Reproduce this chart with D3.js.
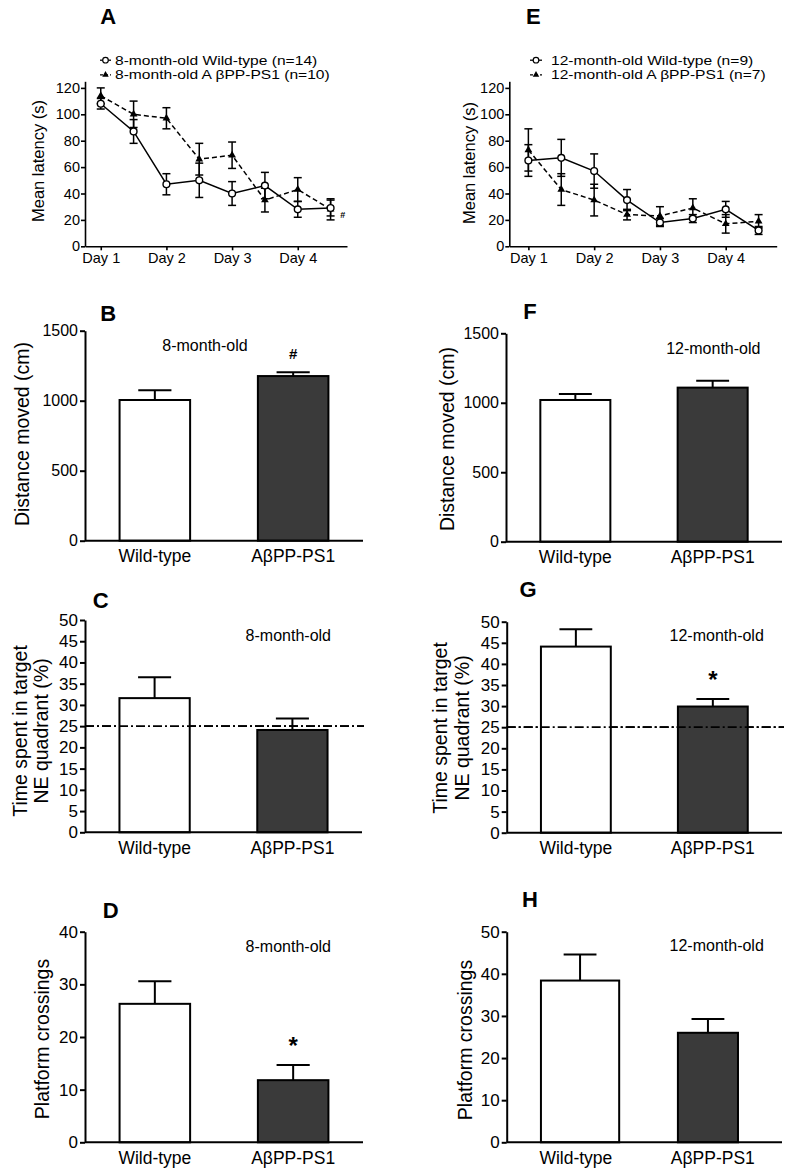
<!DOCTYPE html>
<html><head><meta charset="utf-8">
<script src="https://cdn.jsdelivr.net/npm/d3@7"></script>
<style>
body{margin:0;background:#fff}
svg{display:block}
text{font-family:"Liberation Sans",Arial,Helvetica,sans-serif;fill:#000}
</style>
</head><body>
<svg id="fig" width="791" height="1175"></svg>
<script>
// ---------- data ----------
const dayLabels = ["Day 1","Day 2","Day 3","Day 4"];
const dayTicks = [1,2,3,4];
const sessions = [1,1.5,2,2.5,3,3.5,4,4.5];

const wt8Latency    = [108,87,47,50,40,46,28,29];
const wt8LatencySem = [4,9,8,13,9,10,6,6];
const app8Latency    = [114,100,97,66,69,35,43,28];
const app8LatencySem = [6,10,8,12,10,9,9,8];

const wt12Latency    = [65,67,57,35,18,21,28,12];
const wt12LatencySem = [12,14,13,8,3,3,6,3];
const app12Latency    = [73,43,35,24,23,29,17,19];
const app12LatencySem = [16,12,12,4,7,7,7,5];

const legend8  = ["8-month-old Wild-type (n=14)","8-month-old A \u03b2PP-PS1 (n=10)"];
const legend12 = ["12-month-old Wild-type (n=9)","12-month-old A \u03b2PP-PS1 (n=7)"];

const groups = ["Wild-type","A\u03b2PP-PS1"];
const distance8 = [1005,1176],  distance8Sem = [70,27];
const distance12 = [1020,1109], distance12Sem = [43,50];
const quadrant8 = [31.6,24.1],  quadrant8Sem = [4.9,2.7];
const quadrant12 = [44.1,29.9], quadrant12Sem = [4.1,1.8];
const crossings8 = [26.3,11.8], crossings8Sem = [4.3,2.9];
const crossings12 = [38.4,26.0], crossings12Sem = [6.2,3.3];
const chanceLevel = 25;

const latencyTicks = [0,20,40,60,80,100,120];
const distanceTicks = [0,500,1000,1500];
const quadrantTicks = [0,5,10,15,20,25,30,35,40,45,50];
const crossings8Ticks = [0,10,20,30,40];
const crossings12Ticks = [0,10,20,30,40,50];

// ---------- drawing ----------
const svg = d3.select("#fig");
svg.append("rect").attr("width",791).attr("height",1175).attr("fill","#fff");

function styleAxis(sel, fs, sw){
  sel.selectAll("path.domain").attr("stroke","#000").attr("stroke-width",sw);
  sel.selectAll(".tick line").attr("stroke","#000").attr("stroke-width",sw);
  sel.selectAll(".tick text").style("font-size",fs+"px").attr("fill","#000");
  sel.attr("font-family",null);
}

function letter(t, x, yb){
  svg.append("text").attr("x",x).attr("y",yb).attr("text-anchor","middle")
    .style("font-size","22px").style("font-weight","bold").text(t);
}

function vTitle(lines, xs, yc, fs){
  lines.forEach((t,i)=>{
    svg.append("text").attr("transform",`translate(${xs[i]},${yc}) rotate(-90)`)
      .attr("text-anchor","middle").attr("dy","0.35em").style("font-size",fs+"px").text(t);
  });
}

function linePanel(o){
  const g = svg.append("g");
  const x = d3.scaleLinear().domain([o.dmin,o.dmax]).range([o.left,o.right]);
  const y = d3.scaleLinear().domain([0,125]).range([o.y0,o.y0-165]);

  const ya = g.append("g").attr("transform",`translate(${o.left},0)`)
    .call(d3.axisLeft(y).tickValues(latencyTicks).tickFormat(d3.format("d")).tickSize(4).tickPadding(1).tickSizeOuter(0));
  styleAxis(ya,14.5,1.6);
  const xa = g.append("g").attr("transform",`translate(0,${o.y0})`)
    .call(d3.axisBottom(x).tickValues(dayTicks).tickFormat((d,i)=>dayLabels[i]).tickSize(4).tickPadding(2).tickSizeOuter(0));
  styleAxis(xa,14.5,1.6);

  const series = [
    {v:o.app, s:o.appSem, dash:"5,3", type:"app"},
    {v:o.wt,  s:o.wtSem,  dash:null,  type:"wt"}
  ];
  series.forEach(sr=>{
    const pts = sessions.map((d,i)=>({d, v:sr.v[i], s:sr.s[i]}));
    g.append("path").datum(pts)
      .attr("d", d3.line().x(p=>x(p.d)).y(p=>y(p.v)))
      .attr("fill","none").attr("stroke","#000").attr("stroke-width",1.5)
      .attr("stroke-dasharray",sr.dash);
    const eb = g.append("g").selectAll("g").data(pts).join("g");
    eb.append("line").attr("x1",p=>x(p.d)).attr("x2",p=>x(p.d))
      .attr("y1",p=>y(p.v-p.s)).attr("y2",p=>y(p.v+p.s)).attr("stroke","#000").attr("stroke-width",1.5);
    [-1,1].forEach(k=>{
      eb.append("line").attr("x1",p=>x(p.d)-4).attr("x2",p=>x(p.d)+4)
        .attr("y1",p=>y(p.v+k*p.s)).attr("y2",p=>y(p.v+k*p.s)).attr("stroke","#000").attr("stroke-width",1.5);
    });
    if(sr.type==="wt"){
      g.append("g").selectAll("circle").data(pts).join("circle")
        .attr("cx",p=>x(p.d)).attr("cy",p=>y(p.v)).attr("r",3.4)
        .attr("fill","#fff").attr("stroke","#000").attr("stroke-width",1.4);
    } else {
      g.append("g").selectAll("path").data(pts).join("path")
        .attr("transform",p=>`translate(${x(p.d)},${y(p.v)})`)
        .attr("d",d3.symbol(d3.symbolTriangle,26)).attr("fill","#000");
    }
  });

  // legend
  o.legend.forEach((t,i)=>{
    const cy = o.ly[i];
    g.append("line").attr("x1",o.lx0).attr("x2",o.lx1).attr("y1",cy).attr("y2",cy)
      .attr("stroke","#000").attr("stroke-width",1.3).attr("stroke-dasharray", i? "3,2":null);
    const mx = (o.lx0+o.lx1)/2;
    if(i===0){
      g.append("circle").attr("cx",mx).attr("cy",cy).attr("r",2.8).attr("fill","#fff").attr("stroke","#000").attr("stroke-width",1.2);
    } else {
      g.append("path").attr("transform",`translate(${mx},${cy})`).attr("d",d3.symbol(d3.symbolTriangle,18)).attr("fill","#000");
    }
    g.append("text").attr("transform",`translate(${o.tx},${cy}) scale(1.2,1)`)
      .attr("dy","0.35em").style("font-size","13px").text(t);
  });
  if(o.mark){
    g.append("text").attr("x",o.mark[0]).attr("y",o.mark[1]).attr("text-anchor","middle")
      .style("font-size","9px").style("font-weight","bold").text("#");
  }
}

function barPanel(o){
  const g = svg.append("g");
  const x = d3.scaleBand().domain(groups).range([o.left,o.right]).paddingInner(0.49).paddingOuter(0.25);
  const y = d3.scaleLinear().domain([0,o.max]).range([o.y0,o.yTop]);
  const wf = o.widthFactor || [1,1];
  const bw = (i)=> x.bandwidth()*wf[i];
  const cx = (d,i)=> x(d)+bw(i)/2;

  const chance = ()=> g.append("line").attr("x1",o.left).attr("x2",o.right+2)
      .attr("y1",y(o.chance)).attr("y2",y(o.chance))
      .attr("stroke","#000").attr("stroke-width",1.8).attr("stroke-dasharray","9,3,2,3");
  if(o.chance!==undefined) chance();

  // error bars (upper only)
  const eb = g.append("g").selectAll("g").data(groups).join("g");
  eb.append("line").attr("x1",cx).attr("x2",cx)
    .attr("y1",(d,i)=>y(o.vals[i])).attr("y2",(d,i)=>y(o.vals[i]+o.sem[i])).attr("stroke","#000").attr("stroke-width",2);
  eb.append("line").attr("x1",(d,i)=>cx(d,i)-x.bandwidth()*0.235).attr("x2",(d,i)=>cx(d,i)+x.bandwidth()*0.235)
    .attr("y1",(d,i)=>y(o.vals[i]+o.sem[i])).attr("y2",(d,i)=>y(o.vals[i]+o.sem[i])).attr("stroke","#000").attr("stroke-width",2);

  g.append("g").selectAll("rect").data(groups).join("rect")
    .attr("x",d=>x(d)).attr("width",(d,i)=>bw(i))
    .attr("y",(d,i)=>y(o.vals[i])).attr("height",(d,i)=>o.y0-y(o.vals[i]))
    .attr("fill",(d,i)=> i? "#3a3a3a":"#fff").attr("stroke","#000").attr("stroke-width",2);

  if(o.chance!==undefined) chance();

  const ya = g.append("g").attr("transform",`translate(${o.left},0)`)
    .call(d3.axisLeft(y).tickValues(o.ticks).tickFormat(d3.format("d")).tickSize(5).tickPadding(2).tickSizeOuter(0));
  styleAxis(ya,o.tickFs,2);
  const xa = g.append("g").attr("transform",`translate(0,${o.y0})`)
    .call(d3.axisBottom(x).tickSize(0).tickPadding(9).tickSizeOuter(0));
  styleAxis(xa,17.5,2);
  xa.select("path.domain").attr("d",`M${o.left},0H${o.right}`);

  g.append("text").attr("x",o.age[0]).attr("y",o.age[1]).attr("text-anchor","middle")
    .attr("dy","0.35em").style("font-size","16px").text(o.ageText);
  if(o.sig){
    g.append("text").attr("x",cx(groups[1],1)).attr("y",o.sig.y).attr("text-anchor","middle")
      .style("font-size",o.sig.fs+"px").style("font-weight","bold").text(o.sig.t);
  }
}

// ---------- panels ----------
letter("A",108.3,24); letter("E",533.3,24);
letter("B",108.3,320.5); letter("F",530,318.5);
letter("C",100.8,608.3); letter("G",528,597.3);
letter("D",110.8,918.3); letter("H",530,906.7);

linePanel({left:85,right:347,dmin:0.76,dmax:4.75,y0:246.3,
  wt:wt8Latency,wtSem:wt8LatencySem,app:app8Latency,appSem:app8LatencySem,
  legend:legend8,lx0:100,lx1:111,tx:115,ly:[60.2,74.8],mark:[342.7,217.5]});
vTitle(["Mean latency (s)"],[38.3],161,16.5);

linePanel({left:509.3,right:776.7,dmin:0.71,dmax:4.775,y0:246.3,
  wt:wt12Latency,wtSem:wt12LatencySem,app:app12Latency,appSem:app12LatencySem,
  legend:legend12,lx0:530,lx1:542,tx:551,ly:[60.2,74.8]});
vTitle(["Mean latency (s)"],[469.3],163,16.5);

barPanel({left:85,right:363,y0:540.7,yTop:330.7,max:1500,ticks:distanceTicks,tickFs:16,
  vals:distance8,sem:distance8Sem,age:[205,345],ageText:"8-month-old",sig:{t:"#",y:358.5,fs:15}});
vTitle(["Distance moved (cm)"],[21.7],434,19.5);

barPanel({left:506,right:782,y0:541.7,yTop:333.3,max:1500,ticks:distanceTicks,tickFs:16,
  vals:distance12,sem:distance12Sem,age:[713.3,348.3],ageText:"12-month-old"});
vTitle(["Distance moved (cm)"],[446.7],439,19.5);

barPanel({left:85,right:362,y0:832.3,yTop:620,max:50,ticks:quadrantTicks,tickFs:17,
  vals:quadrant8,sem:quadrant8Sem,age:[288.3,635],ageText:"8-month-old",chance:chanceLevel});
vTitle(["Time spent in target","NE quadrant (%)"],[20,40.7],731,19.5);

barPanel({left:506.7,right:782,y0:832.7,yTop:621.7,max:50,ticks:quadrantTicks,tickFs:17,
  vals:quadrant12,sem:quadrant12Sem,age:[716.7,635],ageText:"12-month-old",chance:chanceLevel,
  sig:{t:"*",y:688,fs:24}});
vTitle(["Time spent in target","NE quadrant (%)"],[440,461.7],728,19.5);

barPanel({left:85,right:363,y0:1142.3,yTop:931.7,max:40,ticks:crossings8Ticks,tickFs:17,
  vals:crossings8,sem:crossings8Sem,age:[288.3,946.7],ageText:"8-month-old",
  sig:{t:"*",y:1054,fs:24}});
vTitle(["Platform crossings"],[41.7],1039,19.5);

barPanel({left:506.7,right:782,y0:1142.3,yTop:931.7,max:50,ticks:crossings12Ticks,tickFs:17,
  vals:crossings12,sem:crossings12Sem,age:[716.7,945],ageText:"12-month-old",widthFactor:[1.12,0.86]});
vTitle(["Platform crossings"],[465],1040,19.5);
</script>
</body></html>
